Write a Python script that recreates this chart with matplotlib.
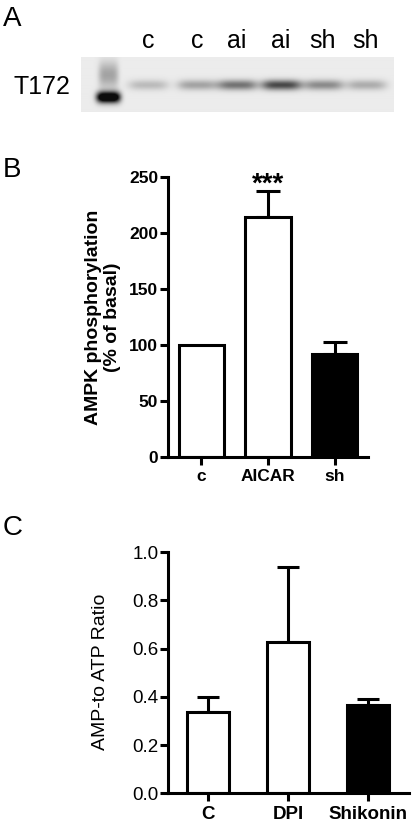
import numpy as np
import matplotlib
matplotlib.use("Agg")
import matplotlib.pyplot as plt

plt.rcParams['font.family'] = ['Liberation Sans', 'DejaVu Sans']

# Panel A: western blot lanes
lane_labels = ['c', 'c', 'ai', 'ai', 'sh', 'sh']
band_x = [67, 116, 156, 200, 242, 285]          # px from left of blot
band_strength = [0.2, 0.3, 0.5, 0.68, 0.4, 0.26]
ladder_x = 27

# Panel B: AMPK phosphorylation
b_groups = ['c', 'AICAR', 'sh']
b_means = [100, 214, 92]
b_sem = [0, 23, 10]
b_colors = ['white', 'white', 'black']

# Panel C: AMP-to-ATP ratio
c_groups = ['C', 'DPI', 'Shikonin']
c_means = [0.336, 0.627, 0.366]
c_sem = [0.065, 0.31, 0.025]
c_colors = ['white', 'white', 'black']

W, H = 412, 830
fig = plt.figure(figsize=(W / 100, H / 100), dpi=100)

def box(x0, y0, x1, y1):
    return [x0 / W, 1 - y1 / H, (x1 - x0) / W, (y1 - y0) / H]

# ---- Panel A ----
fig.text(3 / W, 1 - 26 / H, 'A', fontsize=20)
axa = fig.add_axes(box(81, 57, 394, 112))
bw, bh = 313, 55
xx, yy = np.meshgrid(np.arange(bw), np.arange(bh))
img = np.full((bh, bw), 0.08)
for x, s in zip(band_x, band_strength):
    img += s * np.exp(-((xx - x) / 20.0) ** 4 - ((yy - 28) / 5.0) ** 2)
img += 1.3 * np.exp(-((xx - ladder_x) / 12.0) ** 4 - ((yy - 40) / 5.5) ** 2)
img += 0.3 * np.exp(-((xx - ladder_x) / 10.0) ** 4 - ((yy - 18) / 13.0) ** 2)
axa.imshow(np.clip(img, 0, 1), cmap='gray_r', vmin=0, vmax=1.05,
           extent=(0, bw, bh, 0), aspect='auto', interpolation='bilinear')
axa.set_axis_off()
for x, lab in zip(band_x, lane_labels):
    axa.text(x, -4, lab, ha='center', va='bottom', fontsize=18, clip_on=False)
fig.text(14 / W, 1 - 87 / H, 'T172', fontsize=18, va='center')

lw = 2.2

def style(ax):
    for s in ['top', 'right']:
        ax.spines[s].set_visible(False)
    for s in ['left', 'bottom']:
        ax.spines[s].set_linewidth(lw)
    ax.tick_params(direction='out', length=5.5, width=lw, pad=1.5)

# ---- Panel B ----
fig.text(3 / W, 1 - 177 / H, 'B', fontsize=20)
axb = fig.add_axes(box(168, 176.7, 368, 456.7))
xb = np.arange(len(b_groups))
axb.bar(xb, b_means, width=0.68, color=b_colors, edgecolor='black', linewidth=lw, zorder=2)
for i in range(len(xb)):
    if b_sem[i] > 0:
        axb.errorbar(xb[i], b_means[i], yerr=[[0], [b_sem[i]]], fmt='none',
                     ecolor='black', elinewidth=lw, capsize=8.5, capthick=lw, zorder=1)
axb.text(xb[1], b_means[1] + b_sem[1], '***', ha='center', va='baseline',
         fontsize=20, fontweight='bold', clip_on=False)
axb.set_xlim(-0.5, 2.5)
axb.set_ylim(0, 250)
style(axb)
yb = [0, 50, 100, 150, 200, 250]
axb.set_yticks(yb)
axb.set_yticklabels([str(v) for v in yb], fontsize=12.5, fontweight='bold')
axb.set_xticks(xb)
axb.set_xticklabels(b_groups, fontsize=12.5, fontweight='bold')
axb.tick_params(axis='x', pad=3)
axb.set_ylabel('AMPK phosphorylation\n(% of basal)', fontsize=14, fontweight='bold',
               linespacing=1.1, va='center')
axb.yaxis.set_label_coords((103 - 168) / 200, (456.7 - 317) / 280)

# ---- Panel C ----
fig.text(3 / W, 1 - 535 / H, 'C', fontsize=20)
axc = fig.add_axes(box(168, 552.3, 409, 793.3))
xc = np.arange(len(c_groups))
axc.bar(xc, c_means, width=0.53, color=c_colors, edgecolor='black', linewidth=lw, zorder=2)
axc.errorbar(xc, c_means, yerr=[[0] * 3, c_sem], fmt='none', ecolor='black',
             elinewidth=lw, capsize=8, capthick=lw, zorder=1)
axc.set_xlim(-0.5, 2.51)
axc.set_ylim(0, 1.0)
style(axc)
axc.set_yticks([0.0, 0.2, 0.4, 0.6, 0.8, 1.0])
axc.set_yticklabels(['0.0', '0.2', '0.4', '0.6', '0.8', '1.0'], fontsize=13.5)
axc.set_xticks(xc)
axc.set_xticklabels(c_groups, fontsize=13.5, fontweight='bold')
axc.tick_params(axis='x', pad=4)
axc.set_ylabel('AMP-to ATP Ratio', fontsize=14, va='center')
axc.yaxis.set_label_coords((100 - 168) / 241, (793.3 - 672) / 241)

fig.savefig('out.png', dpi=100)
